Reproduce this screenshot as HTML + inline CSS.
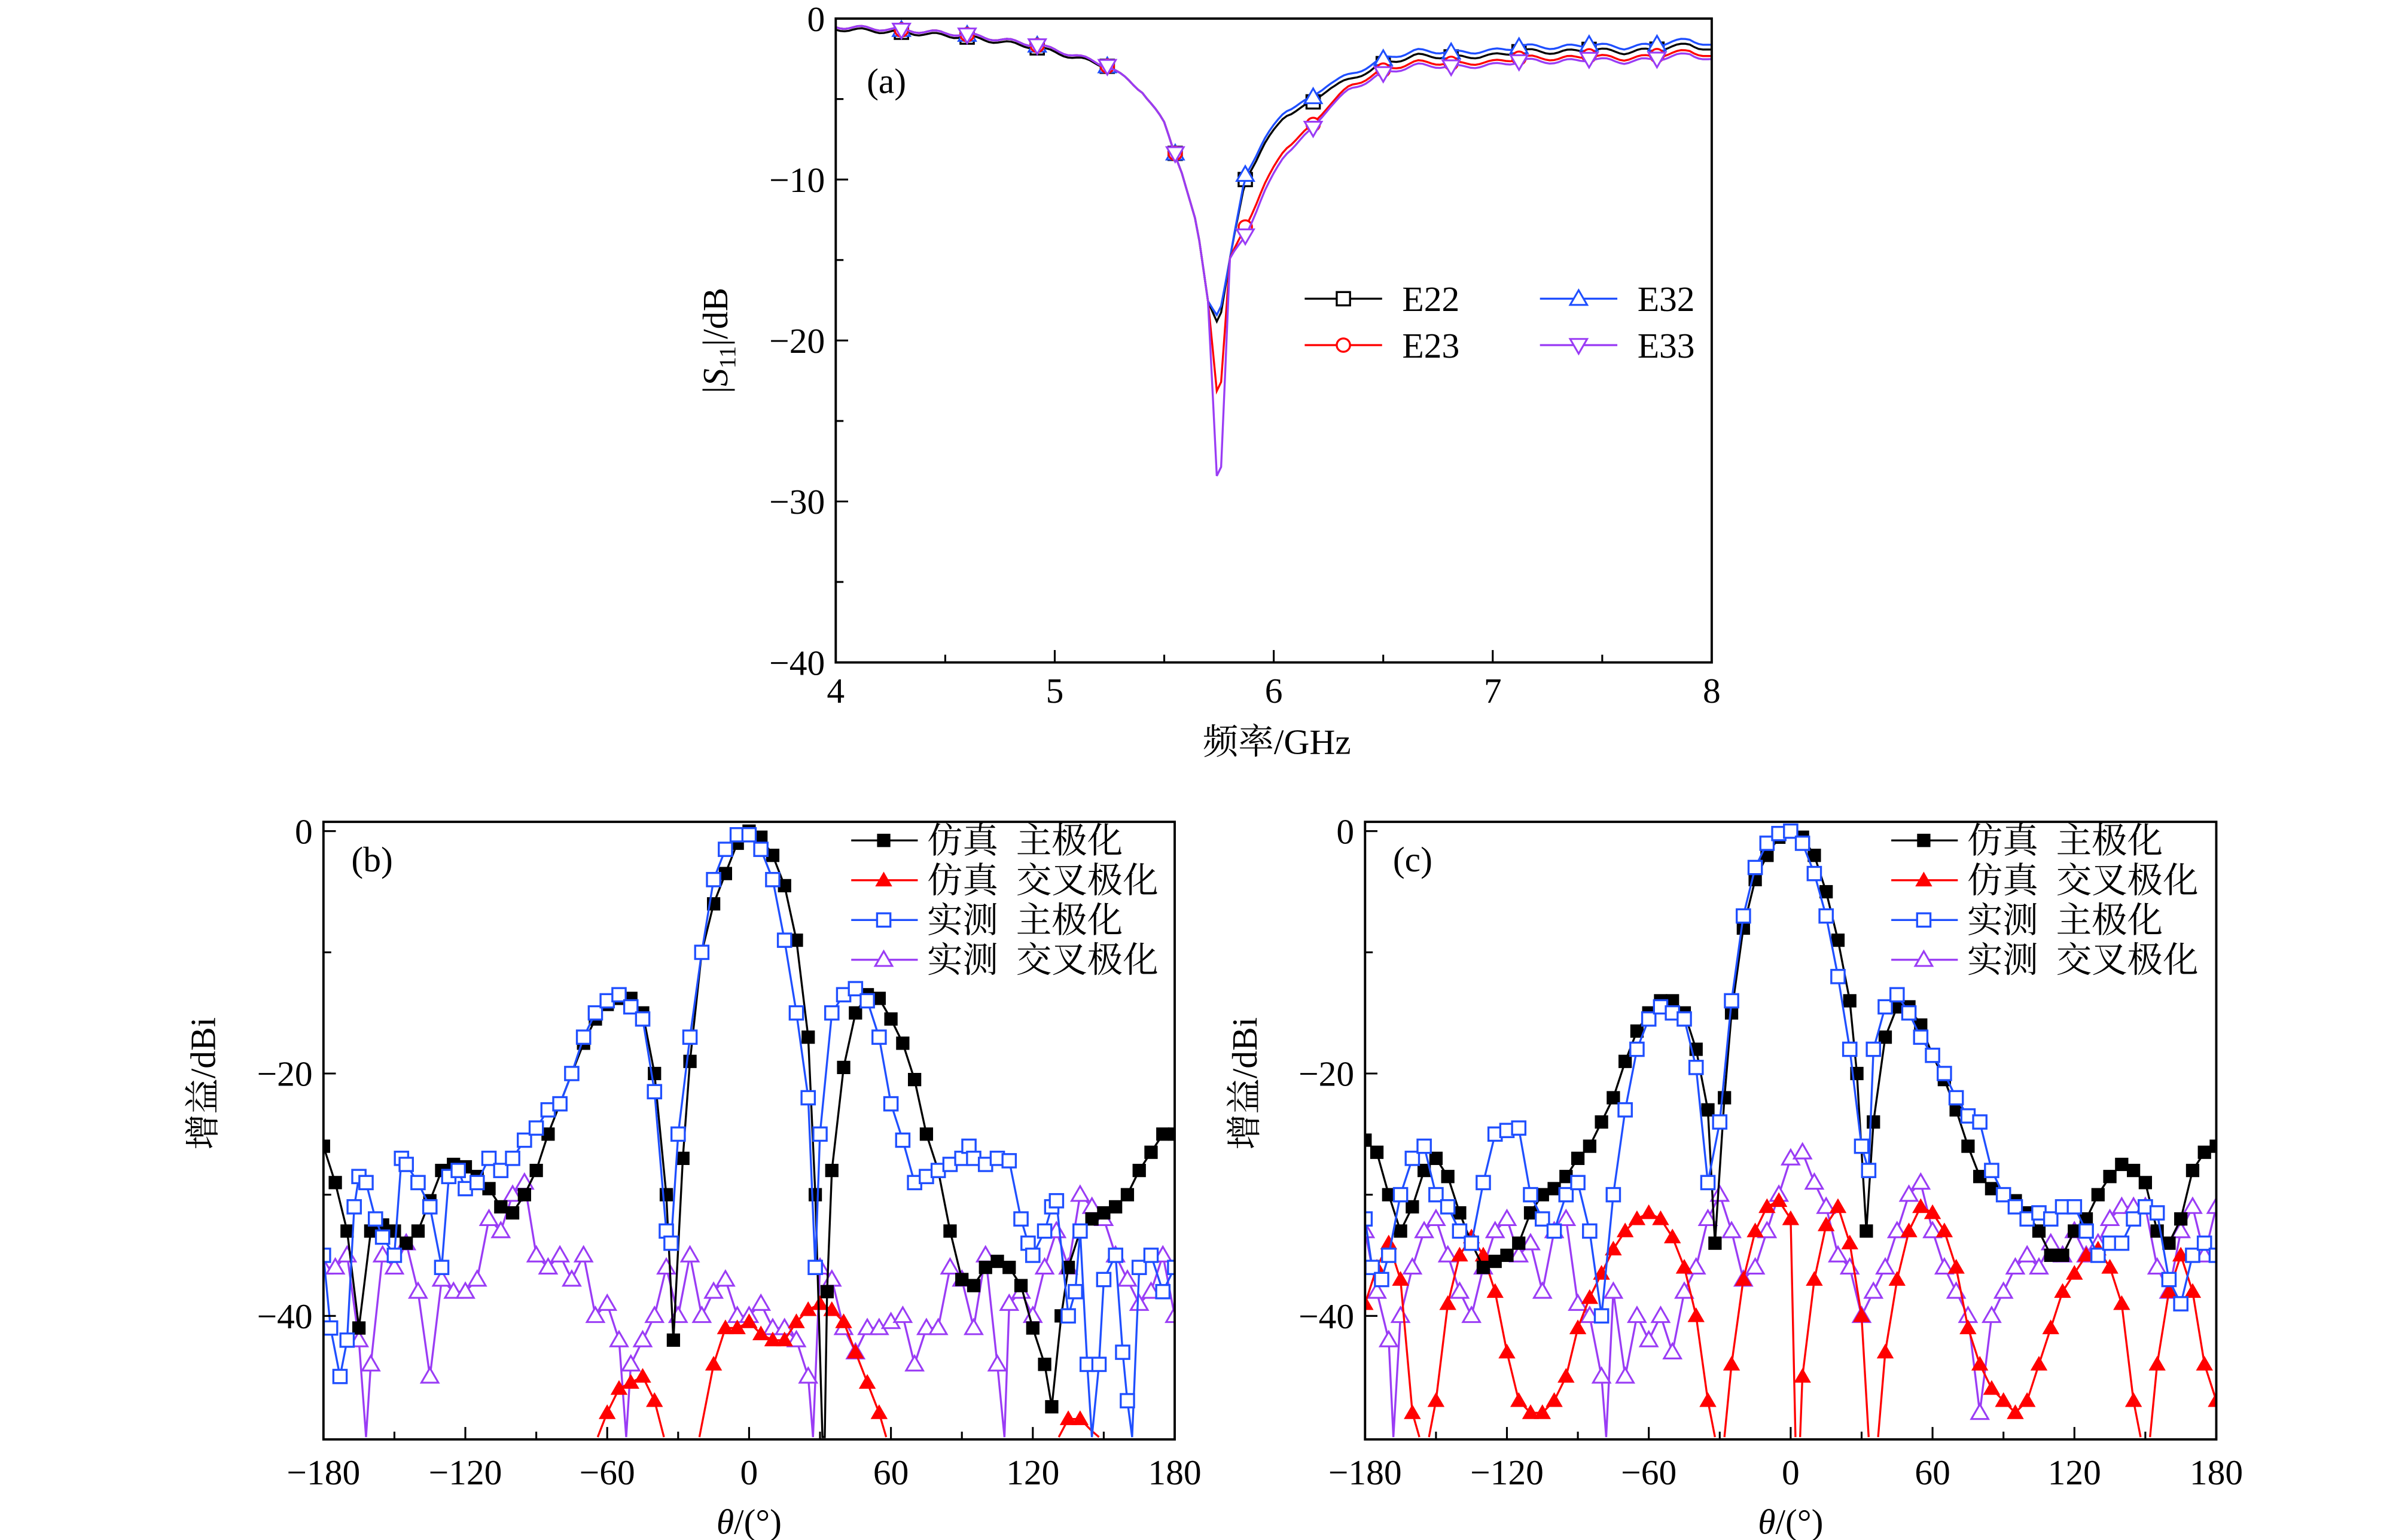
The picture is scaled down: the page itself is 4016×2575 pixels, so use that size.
<!DOCTYPE html>
<html><head><meta charset="utf-8">
<style>html,body{margin:0;padding:0;background:#fff;overflow:hidden}svg{display:block}
text{font-family:"Liberation Serif","Noto Serif CJK SC","Noto Sans CJK SC",serif;fill:#000}</style>
</head><body>
<svg id="s" width="4016" height="2575" viewBox="0 0 1552 995" preserveAspectRatio="none" xmlns="http://www.w3.org/2000/svg"></svg>
<script>
const S=document.getElementById('s');let h='';
function P(a){return a.map(p=>p[0].toFixed(1)+','+p[1].toFixed(1)).join(' ');}
function mk(t,x,y,c){const r=4.3;
 if(t=='sqf')return `<rect x="${x-r}" y="${y-r}" width="${2*r}" height="${2*r}" fill="#000"/>`;
 if(t=='sqo')return `<rect x="${x-r}" y="${y-r}" width="${2*r}" height="${2*r}" fill="#fff" stroke="${c}" stroke-width="1.3"/>`;
 if(t=='ci')return `<circle cx="${x}" cy="${y}" r="${r}" fill="#fff" stroke="${c}" stroke-width="1.3"/>`;
 if(t=='trf')return `<polygon points="${x},${y-5.5} ${x-5.5},${y+4} ${x+5.5},${y+4}" fill="#f00"/>`;
 if(t=='tro')return `<polygon points="${x},${y-5.5} ${x-5.5},${y+4} ${x+5.5},${y+4}" fill="#fff" stroke="${c}" stroke-width="1.2"/>`;
 if(t=='tdo')return `<polygon points="${x},${y+5.5} ${x-5.5},${y-4} ${x+5.5},${y-4}" fill="#fff" stroke="${c}" stroke-width="1.2"/>`;}
function interp(d,x){for(let i=0;i<d.length-1;i++){if(x>=d[i][0]&&x<=d[i+1][0]){const t=(x-d[i][0])/(d[i+1][0]-d[i][0]);return d[i][1]+t*(d[i+1][1]-d[i][1]);}}return d[d.length-1][1];}
const FS=23;
// ---------- (a)
const ax=f=>540+(f-4)*141.5, ay=v=>12-v*10.4;
h+=`<clipPath id="ca"><rect x="540" y="12" width="566" height="416"/></clipPath>`;
const base=[[4,-0.5],[4.3,-0.7],[4.6,-1],[4.9,-1.6],[5.1,-2.3],[5.25,-3],[5.4,-4.5],[5.5,-6.5],[5.58,-9.5],[5.65,-13],[5.7,-17.5],[5.75,-19],[5.8,-15],[5.87,-10],[5.95,-8],[6.05,-6],[6.17,-5.3],[6.25,-4.3],[6.35,-3.8],[6.5,-2.8],[6.65,-2.3],[6.85,-2.4],[7,-2.3],[7.15,-2],[7.3,-2.1],[7.45,-1.9],[7.6,-2.1],[7.75,-1.9],[7.9,-1.6],[8,-2]];
function mod(fn){return base.map(p=>[p[0],fn(p[0],p[1])]);}
const A=[
 {c:'#000',m:'sqo',d:mod((f,v)=>f<5.2?v-0.15:v)},
 {c:'#1f4fff',m:'tro',d:mod((f,v)=>f>5.8?v+0.3:(f>5.74&&f<5.78?-18.5:v))},
 {c:'#f00',m:'ci',d:mod((f,v)=>f>5.7&&f<5.78?-24.4:(f>5.8?v-(f<6.3?2.5*(6.3-f)/0.5+0.8:0.4):v))},
 {c:'#9a3cf5',m:'tdo',d:mod((f,v)=>f>5.74&&f<5.78?-31:(f>5.8?v-(f<6.3?3*(6.3-f)/0.5+0.9:0.6):v))}];
h+=`<g clip-path="url(#ca)">`;
const mf=[4.3,4.6,4.92,5.24,5.55,5.87,6.18,6.5,6.81,7.12,7.44,7.75];
A.forEach(s=>{const pts=[];for(let f=4;f<=8.0001;f+=0.02){let v=interp(s.d,f)+0.12*Math.sin(f*37);pts.push([ax(f),ay(v)]);}
 h+=`<polyline points="${P(pts)}" fill="none" stroke="${s.c}" stroke-width="1.3"/>`;
 mf.forEach(f=>{h+=mk(s.m,ax(f),ay(interp(s.d,f)),s.c);});});
h+=`</g><rect x="540" y="12" width="566" height="416" fill="none" stroke="#000" stroke-width="1.5"/>`;
for(let f=4;f<=8;f+=0.5){const x=ax(f),L=(f%1==0)?8:5;h+=`<line x1="${x}" y1="428" x2="${x}" y2="${428-L}" stroke="#000" stroke-width="1.2"/>`;
 if(f%1==0)h+=`<text x="${x}" y="454" font-size="${FS}" text-anchor="middle">${f}</text>`;}
for(let v=0;v>=-40;v-=5){const y=ay(v),L=(v%10==0)?8:5;h+=`<line x1="540" y1="${y}" x2="${540+L}" y2="${y}" stroke="#000" stroke-width="1.2"/>`;
 if(v%10==0)h+=`<text x="533" y="${y+8}" font-size="${FS}" text-anchor="end">${v==0?'0':'−'+(-v)}</text>`;}
h+=`<text x="560" y="60" font-size="${FS}">(a)</text><text x="825" y="487" font-size="${FS}" text-anchor="middle">频率/GHz</text>`;
h+=`<text transform="translate(470,220) rotate(-90)" font-size="${FS}" text-anchor="middle">|<tspan font-style="italic">S</tspan><tspan font-size="15" dy="5">11</tspan><tspan dy="-5">|/dB</tspan></text>`;
[[843,193,'#000','sqo','E22'],[843,223,'#f00','ci','E23'],[995,193,'#1f4fff','tro','E32'],[995,223,'#9a3cf5','tdo','E33']].forEach(l=>{
 h+=`<line x1="${l[0]}" y1="${l[1]}" x2="${l[0]+50}" y2="${l[1]}" stroke="${l[2]}" stroke-width="1.3"/>`+mk(l[3],l[0]+25,l[1],l[2])+`<text x="${l[0]+63}" y="${l[1]+8}" font-size="${FS}">${l[4]}</text>`;});
// ---------- polar panels
function panel(x0,lab,ser,lx){
 const x1=x0+550,xm=(x0+x1)/2,X=t=>xm+t*550/360,Y=v=>537-v*7.83,id='c'+lab;
 h+=`<clipPath id="${id}"><rect x="${x0}" y="531" width="550" height="399"/></clipPath><g clip-path="url(#${id})">`;
 ser.forEach(s=>{s.d.forEach(seg=>{h+=`<polyline points="${P(seg.map(p=>[X(p[0]),Y(p[1])]))}" fill="none" stroke="${s.c}" stroke-width="1.3"/>`;
   seg.forEach(p=>{if(p[1]>-49.5)h+=mk(s.m,X(p[0]),Y(p[1]),s.c);});});});
 h+=`</g><rect x="${x0}" y="531" width="550" height="399" fill="none" stroke="#000" stroke-width="1.5"/>`;
 for(let t=-180;t<=180;t+=30){const x=X(t),L=(t%60==0)?8:5;h+=`<line x1="${x}" y1="930" x2="${x}" y2="${930-L}" stroke="#000" stroke-width="1.2"/>`;
  if(t%60==0)h+=`<text x="${x}" y="959" font-size="${FS}" text-anchor="middle">${t<0?'−'+(-t):t}</text>`;}
 for(let v=0;v>=-40;v-=10){const y=Y(v),L=(v%20==0)?8:5;h+=`<line x1="${x0}" y1="${y}" x2="${x0+L}" y2="${y}" stroke="#000" stroke-width="1.2"/>`;
  if(v%20==0)h+=`<text x="${x0-7}" y="${y+8}" font-size="${FS}" text-anchor="end">${v==0?'0':'−'+(-v)}</text>`;}
 h+=`<text x="${x0+18}" y="563" font-size="${FS}">(${lab})</text>`;
 h+=`<text x="${xm}" y="991" font-size="${FS}" text-anchor="middle"><tspan font-style="italic">θ</tspan>/(°)</text>`;
 h+=`<text transform="translate(${x0-70},700) rotate(-90)" font-size="${FS}" text-anchor="middle">增益/dBi</text>`;
 [['#000','sqf','仿真  主极化'],['#f00','trf','仿真  交叉极化'],['#1f4fff','sqo','实测  主极化'],['#9a3cf5','tro','实测  交叉极化']].forEach((l,i)=>{const y=543+i*25.7;
  h+=`<line x1="${lx}" y1="${y}" x2="${lx+43}" y2="${y}" stroke="${l[0]}" stroke-width="1.3"/>`+mk(l[1],lx+21,y,l[0])+`<text x="${lx+49}" y="${y+8}" font-size="23" xml:space="preserve">${l[2]}</text>`;});}
function pr(s){const a=s.trim().split(/\s+/).map(q=>q.split(':').map(Number));return a;}
const bK=pr(`-180:-26 -175:-29 -170:-33 -165:-41 -160:-33 -155:-32.5 -150:-33 -145:-34 -140:-33 -135:-30.5 -130:-28 -125:-27.5 -120:-27.7 -115:-28.5 -110:-29.5 -105:-31 -100:-31.5 -95:-30 -90:-28 -85:-25 -80:-22.5 -75:-20 -70:-17.5 -65:-15.5 -60:-14.3 -55:-13.8 -50:-13.8 -45:-15 -40:-20 -35:-30 -32:-42 -28:-27 -25:-19 -20:-10 -15:-6 -10:-3.5 -5:-1 0:0 5:-0.5 10:-2 15:-4.5 20:-9 25:-17 28:-30 31:-50 32:-50 33:-38 35:-28 40:-19.5 45:-15 50:-13.5 55:-13.8 60:-15.5 65:-17.5 70:-20.5 75:-25 80:-28 85:-33 90:-37 95:-37.5 100:-36 105:-35.5 110:-36 115:-37.5 120:-41 125:-44 128:-47.5 132:-40 135:-36 140:-33 145:-32 150:-31.5 155:-31 160:-30 165:-28 170:-26.5 175:-25 180:-25`);
const bB=pr(`-180:-35 -177:-41 -173:-45 -170:-42 -167:-31 -165:-28.5 -162:-29 -158:-32 -155:-33.5 -150:-35 -147:-27 -145:-27.5 -140:-29 -135:-31 -130:-36 -127:-28.5 -123:-28 -120:-29.5 -115:-29 -110:-27 -105:-28 -100:-27 -95:-25.5 -90:-24.5 -85:-23 -80:-22.5 -75:-20 -70:-17 -65:-15 -60:-14 -55:-13.5 -50:-14.5 -45:-15.5 -40:-21.5 -35:-33 -33:-34 -30:-25 -25:-17 -20:-10 -15:-4 -10:-1.5 -5:-0.3 0:-0.3 5:-1.5 10:-4 15:-9 20:-15 25:-22 28:-36 30:-25 35:-15 40:-13.5 45:-13 50:-14 55:-17 60:-22.5 65:-25.5 70:-29 75:-28.5 80:-28 85:-27.5 90:-27 93:-26 95:-27 100:-27.5 105:-27 110:-27.2 115:-32 118:-34 120:-35 125:-33 128:-31 130:-30.5 135:-40 138:-38 140:-33 143:-44 145:-50 148:-44 150:-37 155:-35 158:-43 160:-47 162:-50 165:-36 170:-35 175:-38 180:-36`);
const bR=[pr(`-64:-50 -60:-48 -55:-46 -50:-45.5 -45:-45 -40:-47 -36:-50`),pr(`-21:-50 -15:-44 -10:-41 -5:-41 0:-40.5 5:-41.5 10:-42 15:-42 20:-40.5 25:-39.5 30:-39 35:-39.5 40:-40.5 45:-43 50:-45.5 55:-48 58:-50`),pr(`131:-50 135:-48.5 140:-48.5 145:-49.5 148:-50`)];
const bP=pr(`-180:-36 -175:-36 -170:-35 -165:-42 -162:-50 -160:-44 -155:-35 -150:-36 -145:-34 -140:-38 -135:-45 -130:-37 -125:-38 -120:-38 -115:-37 -110:-32 -105:-33 -100:-30 -95:-29 -90:-35 -85:-36 -80:-35 -75:-37 -70:-35 -65:-40 -60:-39 -55:-42 -52:-50 -50:-44 -45:-42 -40:-40 -35:-36 -30:-40 -25:-35 -20:-40 -15:-38 -10:-37 -5:-40 0:-40 5:-39 10:-41 15:-41 20:-42 25:-45 27:-50 30:-36 35:-37 40:-41 45:-43 50:-41 55:-41 60:-40.5 65:-40 70:-44 75:-41 80:-41 85:-36 90:-37 95:-41 100:-35 105:-44 108:-50 110:-39 115:-38 120:-40 125:-36 130:-33 135:-36 140:-30 145:-31 150:-32 155:-35 160:-37 165:-39 170:-38 175:-35 180:-40`);
panel(209,'b',[{c:'#9a3cf5',m:'tro',d:[bP]},{c:'#f00',m:'trf',d:bR},{c:'#000',m:'sqf',d:[bK]},{c:'#1f4fff',m:'sqo',d:[bB]}],550);
const cK=pr(`-180:-25.5 -175:-26.5 -170:-30 -165:-33 -160:-31 -155:-28 -150:-27 -145:-28.5 -140:-31.5 -135:-34 -130:-36 -125:-35.5 -120:-35 -115:-34 -110:-31.5 -105:-30 -100:-29.5 -95:-28.5 -90:-27 -85:-26 -80:-24 -75:-22 -70:-19 -65:-16.5 -60:-15 -55:-14 -50:-14 -45:-15 -40:-18 -35:-23 -32:-34 -28:-22 -25:-15 -20:-8 -15:-4 -10:-2 -5:-0.5 0:0 5:-0.5 10:-2 15:-5 20:-9 25:-14 28:-20 32:-33 35:-24 40:-17 45:-14.5 50:-14.5 55:-16 60:-18.5 65:-20.5 70:-23 75:-26 80:-28.5 85:-29.5 90:-30 95:-30.5 100:-31.5 105:-33 110:-35 115:-35 120:-33 125:-32 130:-30 135:-28.5 140:-27.5 145:-28 150:-29 155:-33 160:-34 165:-32 170:-28 175:-26.5 180:-26`);
const cB=pr(`-180:-32 -177:-36 -173:-37 -170:-35 -165:-30 -160:-27 -155:-26 -150:-30 -145:-31 -140:-33 -135:-34 -130:-29 -125:-25 -120:-24.7 -115:-24.5 -110:-30 -105:-32 -100:-33 -95:-30 -90:-29 -85:-33 -80:-40 -75:-30 -70:-23 -65:-18 -60:-15.5 -55:-14.5 -50:-15 -45:-15.5 -40:-19.5 -35:-29 -30:-24 -25:-14 -20:-7 -15:-3 -10:-1 -5:-0.2 0:0 5:-1 10:-3.5 15:-7 20:-12 25:-18 30:-26 33:-28 35:-18 40:-14.5 45:-13.5 50:-15 55:-17 60:-18.5 65:-20 70:-22 75:-23.5 80:-24 85:-28 90:-30 95:-31 100:-32 105:-31.5 110:-32 115:-31 120:-31 125:-33 130:-35 135:-34 140:-34 145:-32 150:-31 155:-31.5 160:-37 165:-39 170:-35 175:-34 180:-35`);
const cR=[pr(`-180:-39 -175:-36 -170:-34 -165:-37 -160:-48 -157:-50`),pr(`-153:-50 -150:-47 -145:-39 -140:-35 -135:-33.5 -130:-35 -125:-38 -120:-43 -115:-47 -110:-48 -105:-48 -100:-47 -95:-45 -90:-41 -85:-38.5 -80:-36.5 -75:-34.5 -70:-33 -65:-32 -60:-31.5 -55:-32 -50:-33.5 -45:-36 -40:-40 -35:-47 -32:-50`),pr(`-28:-50 -25:-44 -20:-37 -15:-33 -10:-31 -5:-30.5 0:-32 2:-50`),pr(`4:-50 5:-45 10:-37 15:-32.5 20:-31 25:-34 30:-40 33:-50`),pr(`37:-50 40:-43 45:-37 50:-33 55:-31 60:-31.5 65:-33 70:-36 75:-41 80:-44 85:-46 90:-47 95:-48 100:-47 105:-44 110:-41 115:-38 120:-36.5 125:-35 130:-34.5 135:-36 140:-39 145:-47 148:-50`),pr(`152:-50 155:-44 160:-38 165:-35 170:-38 175:-44 180:-47`)];
const cP=pr(`-180:-33 -175:-38 -170:-42 -168:-50 -165:-40 -160:-36 -155:-33 -150:-32 -145:-35 -140:-38 -135:-40 -130:-36 -125:-33 -120:-32 -115:-35 -110:-34 -105:-38 -100:-33 -95:-32 -90:-39 -85:-40 -80:-45 -78:-50 -75:-38 -70:-45 -65:-40 -60:-42 -55:-40 -50:-43 -45:-38 -40:-36 -35:-32 -30:-30 -25:-33 -20:-37 -15:-36 -10:-33 -5:-30 0:-27 5:-26.5 10:-29 15:-31 20:-35 25:-36 30:-40 35:-38 40:-36 45:-33 50:-30 55:-29 60:-33 65:-36 70:-38 75:-40 80:-48 85:-40 90:-38 95:-36 100:-35 105:-36 110:-34 115:-35 120:-33 125:-35 130:-34 135:-32 140:-31 145:-31 150:-31 155:-36 160:-38 165:-33 170:-31 175:-35 180:-31`);
panel(882,'c',[{c:'#9a3cf5',m:'tro',d:[cP]},{c:'#f00',m:'trf',d:cR},{c:'#000',m:'sqf',d:[cK]},{c:'#1f4fff',m:'sqo',d:[cB]}],1222);
S.innerHTML=h;
</script>
</body></html>
